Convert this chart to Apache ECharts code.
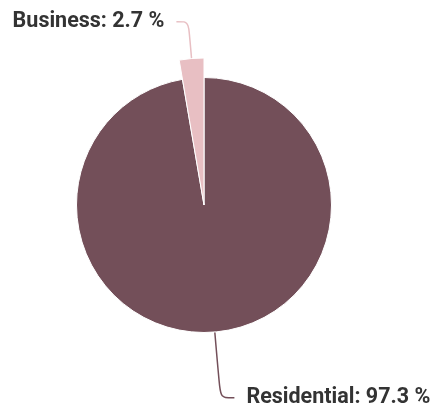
<!DOCTYPE html>
<html>
<head>
<meta charset="utf-8">
<script src="https://cdn.jsdelivr.net/npm/echarts@6/dist/echarts.min.js"></script>
<style>
  html, body { margin: 0; padding: 0; background: #fff; }
  #chart { width: 431px; height: 406px; }
</style>
</head>
<body>
<div id="chart"></div>
<script>
const categories = ["Residential", "Business"];
const shares = [97.3, 2.7];
const colors = ["#734f59", "#e8bfc3"];
// Business slice is drawn with a larger radius than the rest
const bigSlice = "Business";

const chart = echarts.init(document.getElementById("chart"));

function buildData(onTop) {
  return categories.map((name, i) => {
    const show = (name === bigSlice) === onTop;
    return {
      name: name,
      value: shares[i],
      itemStyle: show
        ? { color: colors[i], borderColor: "#fff", borderWidth: 1 }
        : { color: "transparent", borderWidth: 0 },
      label: { show: show },
      labelLine: {
        show: show,
        lineStyle: { color: colors[i], width: 1.5 },
      },
    };
  });
}

const labelBase = {
  formatter: "{b}: {c} %",
  fontFamily: "Roboto",
  fontWeight: "bold",
  fontSize: 21.5,
  color: "#333",
  distanceToLabelLine: 12,
};

chart.setOption({
  animation: false,
  series: [
    {
      type: "pie",
      center: [204, 205],
      radius: [0, 127.5],
      startAngle: 90,
      avoidLabelOverlap: false,
      silent: true,
      label: labelBase,
      labelLine: { length: 66, length2: 14, smooth: 0.3 },
      data: buildData(false),
    },
    {
      type: "pie",
      center: [204, 205],
      radius: [0, 147],
      startAngle: 90,
      avoidLabelOverlap: false,
      silent: true,
      label: labelBase,
      labelLine: { length: 37, length2: 12, smooth: 0.3 },
      data: buildData(true),
    },
  ],
});
</script>
</body>
</html>
